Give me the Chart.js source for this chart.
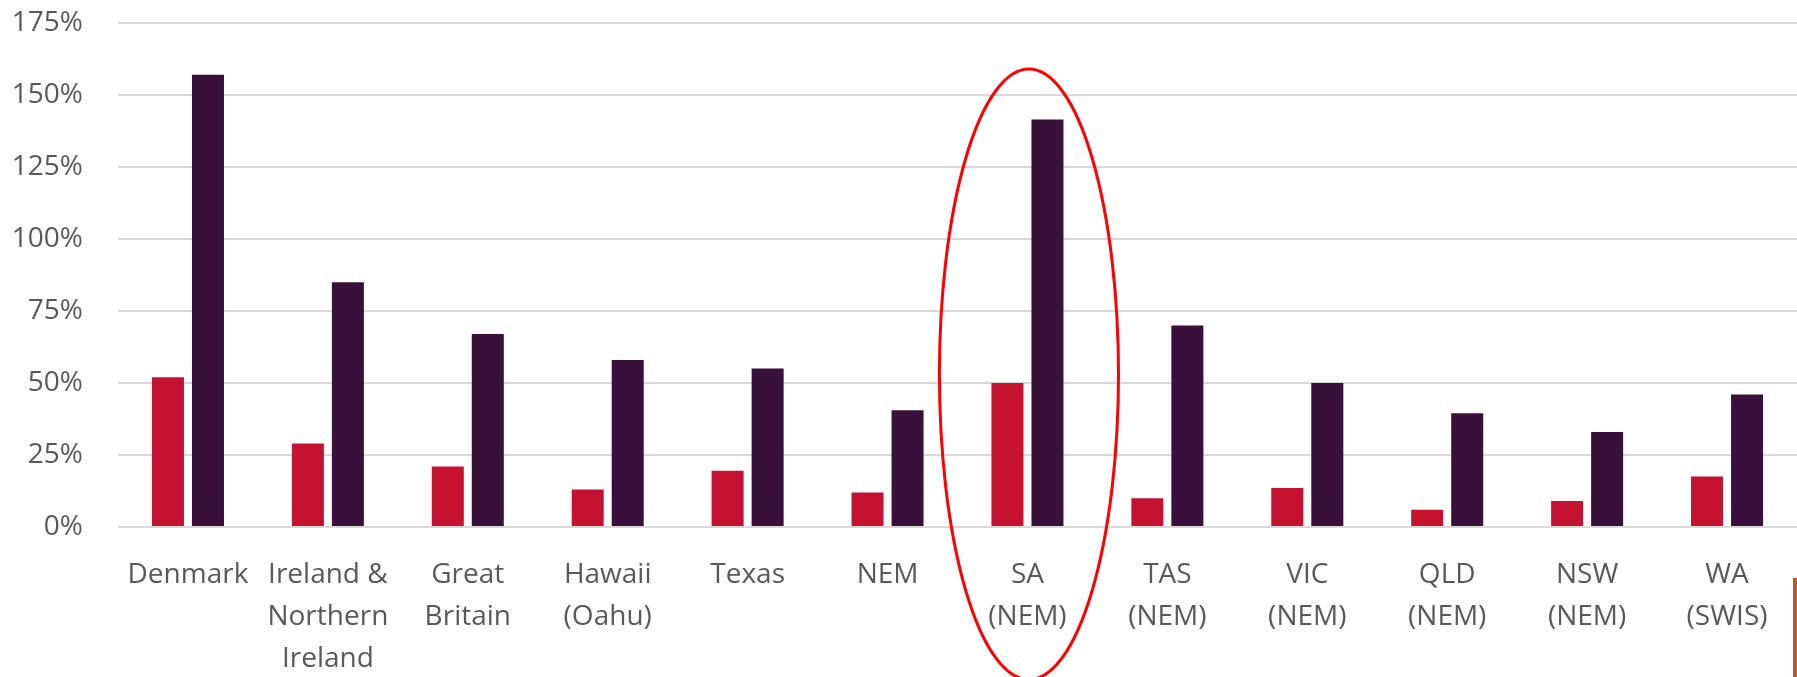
<!DOCTYPE html>
<html>
<head>
<meta charset="utf-8">
<script src="https://cdn.jsdelivr.net/npm/chart.js@4/dist/chart.umd.min.js"></script>
<style>
  html, body { margin: 0; padding: 0; background: #ffffff; }
  #wrap { position: relative; width: 1797px; height: 677px; overflow: hidden; }
  #edge { position: absolute; left: 1793px; top: 578px; width: 4px; height: 99px; background: #c0592b; }
</style>
</head>
<body>
<div id="wrap">
  <canvas id="chart" width="1797" height="677"></canvas>
  <div id="edge"></div>
</div>
<script>
// Regions shown along the x axis (multi-line labels)
const categories = [
  ["Denmark"],
  ["Ireland &", "Northern", "Ireland"],
  ["Great", "Britain"],
  ["Hawaii", "(Oahu)"],
  ["Texas"],
  ["NEM"],
  ["SA", "(NEM)"],
  ["TAS", "(NEM)"],
  ["VIC", "(NEM)"],
  ["QLD", "(NEM)"],
  ["NSW", "(NEM)"],
  ["WA", "(SWIS)"]
];

// Share of demand, in percent
const annualShare = [52, 29, 21, 13, 19.5, 12, 50, 10, 13.5, 6, 9, 17.5];
const peakShare   = [157, 85, 67, 58, 55, 40.5, 141.5, 70, 50, 39.5, 33, 46];

// Value axis ticks
const yTicks = [0, 25, 50, 75, 100, 125, 150, 175];

// Highlight ring around the South Australian pair (category index, value extents)
const ringCategory = 6;
const ringHalfWidth = 0.64;   // in category widths
const ringTop = 159;          // %
const ringBottom = -53;       // %

const ringPlugin = {
  id: 'ring',
  afterDraw(chart) {
    const x = chart.scales.x, y = chart.scales.y;
    const cx = x.getPixelForValue(ringCategory) + 1.5;
    const step = x.getPixelForValue(1) - x.getPixelForValue(0);
    const rx = ringHalfWidth * step;
    const top = y.getPixelForValue(ringTop);
    const bottom = y.getPixelForValue(ringBottom);
    const ctx = chart.ctx;
    ctx.save();
    ctx.beginPath();
    ctx.ellipse(cx, (top + bottom) / 2, rx, (bottom - top) / 2, 0, 0, Math.PI * 2);
    ctx.strokeStyle = '#ff0000';
    ctx.lineWidth = 3;
    ctx.stroke();
    ctx.restore();
  }
};

const labelFont = { family: "'Open Sans', 'Noto Sans', sans-serif", size: 28, weight: 400 };

new Chart(document.getElementById('chart'), {
  type: 'bar',
  data: {
    labels: categories,
    datasets: [
      {
        label: 'Annual share',
        data: annualShare,
        backgroundColor: '#c41230',
        barPercentage: 0.8,
        categoryPercentage: 0.572
      },
      {
        label: 'Peak share',
        data: peakShare,
        backgroundColor: '#38103a',
        barPercentage: 0.8,
        categoryPercentage: 0.572
      }
    ]
  },
  options: {
    responsive: false,
    animation: false,
    devicePixelRatio: 1,
    layout: { padding: { top: 23, left: 0, right: 0, bottom: 0 } },
    plugins: {
      legend: { display: false },
      tooltip: { enabled: false }
    },
    scales: {
      x: {
        grid: { display: false, drawTicks: false },
        border: { display: false },
        ticks: {
          color: '#595959',
          font: Object.assign({ lineHeight: 1.5 }, labelFont),
          padding: 27,
          maxRotation: 0,
          autoSkip: false
        },
        afterFit(scale) {
          scale.height = 150;
          scale.paddingLeft = 0;
          scale.paddingRight = 0;
        }
      },
      y: {
        min: 0,
        max: 175,
        grid: { color: '#d9d9d9', lineWidth: 2, drawTicks: false },
        border: { display: false },
        afterBuildTicks(scale) { scale.ticks = yTicks.map(v => ({ value: v })); },
        ticks: {
          color: '#595959',
          font: Object.assign({ lineHeight: 1.2 }, labelFont),
          padding: 35,
          callback: v => v + '%'
        },
        afterFit(scale) {
          scale.width = 118;
          scale.paddingTop = 0;
          scale.paddingBottom = 0;
        }
      }
    }
  },
  plugins: [ringPlugin]
});
</script>
</body>
</html>
